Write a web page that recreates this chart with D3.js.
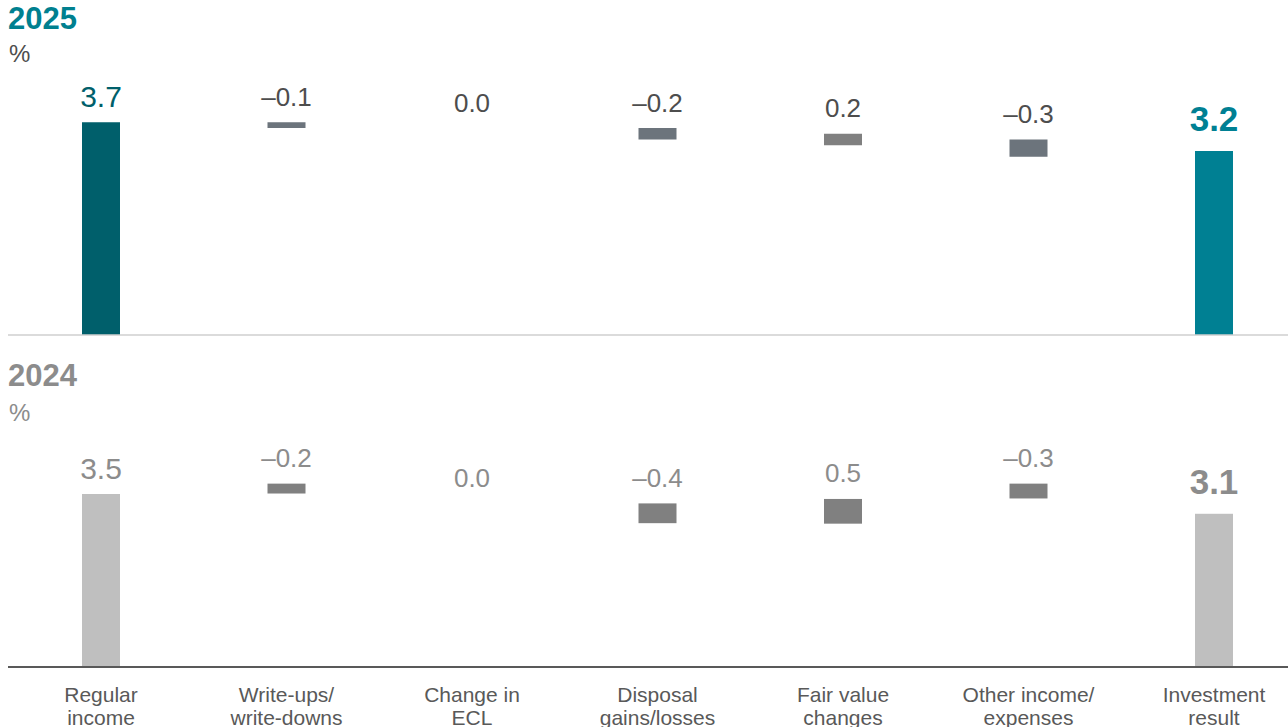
<!DOCTYPE html>
<html>
<head>
<meta charset="utf-8">
<script src="https://cdn.jsdelivr.net/npm/d3@7"></script>
<style>
  html, body { margin: 0; padding: 0; background: #ffffff; }
  svg { display: block; font-family: "Liberation Sans", Arial, sans-serif; }
</style>
</head>
<body>
<svg id="chart" width="1288" height="727"></svg>
<script>
// Categories of the investment result bridge
const categories = [
  ["Regular", "income"],
  ["Write-ups/", "write-downs"],
  ["Change in", "ECL"],
  ["Disposal", "gains/losses"],
  ["Fair value", "changes"],
  ["Other income/", "expenses"],
  ["Investment", "result"]
];
const kinds = ["total", "delta", "delta", "delta", "delta", "delta", "total"];

// 2025: values (labels) and the upper edge of each bridge step
const values2025 = [3.7, -0.1, 0.0, -0.2, 0.2, -0.3, 3.2];
const tops2025   = [3.7, 3.7, 3.6, 3.6, 3.5, 3.4, 3.2];

// 2024: values (labels) and the upper edge of each bridge step
const values2024 = [3.5, -0.2, 0.0, -0.4, 0.5, -0.3, 3.1];
const tops2024   = [3.5, 3.71, 3.3, 3.31, 3.4, 3.71, 3.1];

const yearLabels = ["2025", "2024"];
const unitLabel = "%";

const svg = d3.select("#chart");
const keys = categories.map(c => c.join(" "));
const x = d3.scalePoint().domain(keys).range([101, 1214]);
const barW = 38;

const fmt = v => (v < 0 ? "\u2013" : "") + Math.abs(v).toFixed(1);

const panels = [
  {
    year: yearLabels[0], values: values2025, tops: tops2025,
    y: d3.scaleLinear().domain([0, 4]).range([335, 105]),
    titleY: 29, unitY: 62,
    titleColor: "#00808f", unitColor: "#4d4d4d",
    firstColor: "#005f6b", lastColor: "#008093",
    deltaColors: ["#6c747c", "#6c747c", "#6c747c", "#808080", "#6c747c"],
    firstLabel: "#005f6b", lastLabel: "#008093", labelColor: "#4d4d4d",
    axisColor: "#cfcfcf", axisW: 1.5
  },
  {
    year: yearLabels[1], values: values2024, tops: tops2024,
    y: d3.scaleLinear().domain([0, 4]).range([667, 469.3]),
    titleY: 386, unitY: 421,
    titleColor: "#8c8c8c", unitColor: "#8c8c8c",
    firstColor: "#bfbfbf", lastColor: "#bfbfbf",
    deltaColors: ["#808080", "#808080", "#808080", "#808080", "#808080"],
    firstLabel: "#8c8c8c", lastLabel: "#8c8c8c", labelColor: "#8c8c8c",
    axisColor: "#595959", axisW: 2
  }
];

panels.forEach(p => {
  const g = svg.append("g");
  g.append("text").attr("x", 8).attr("y", p.titleY)
    .attr("font-size", 31).attr("font-weight", "bold")
    .attr("fill", p.titleColor).text(p.year);
  g.append("text").attr("x", 9).attr("y", p.unitY)
    .attr("font-size", 24).attr("fill", p.unitColor).text(unitLabel);

  const rows = keys.map((k, i) => {
    const v = p.values[i];
    const top = p.tops[i];
    const bottom = kinds[i] === "total" ? 0 : top - Math.abs(v);
    return { k, i, v, top, bottom, kind: kinds[i] };
  });

  g.selectAll("rect.bar").data(rows.filter(d => d.v !== 0))
    .join("rect").attr("class", "bar")
    .attr("x", d => x(d.k) - barW / 2)
    .attr("width", barW)
    .attr("y", d => p.y(d.top))
    .attr("height", d => p.y(d.bottom) - p.y(d.top))
    .attr("fill", d => d.i === 0 ? p.firstColor
                    : d.i === keys.length - 1 ? p.lastColor
                    : p.deltaColors[d.i - 1]);

  g.selectAll("text.val").data(rows)
    .join("text").attr("class", "val")
    .attr("x", d => x(d.k))
    .attr("y", d => p.y(d.top) - (d.i === keys.length - 1 ? 20 : d.i === 0 ? 15 : 16.5))
    .attr("text-anchor", "middle")
    .attr("font-size", d => d.i === keys.length - 1 ? 35 : d.i === 0 ? 30 : 26)
    .attr("font-weight", d => d.i === keys.length - 1 ? "bold" : "normal")
    .attr("fill", d => d.i === 0 ? p.firstLabel
                    : d.i === keys.length - 1 ? p.lastLabel : p.labelColor)
    .text(d => fmt(d.v));

  g.append("line")
    .attr("x1", 8).attr("x2", 1288)
    .attr("y1", p.y(0)).attr("y2", p.y(0))
    .attr("stroke", p.axisColor).attr("stroke-width", p.axisW);
});

// Category labels below the lower panel
const cat = svg.append("g").selectAll("text").data(categories).join("text")
  .attr("x", (d, i) => x(keys[i]))
  .attr("y", 701.7)
  .attr("text-anchor", "middle")
  .attr("font-size", 21)
  .attr("fill", "#595959");
cat.selectAll("tspan").data(d => d).join("tspan")
  .attr("x", function() { return d3.select(this.parentNode).attr("x"); })
  .attr("dy", (d, j) => j === 0 ? 0 : 23.5)
  .text(d => d);
</script>
</body>
</html>
